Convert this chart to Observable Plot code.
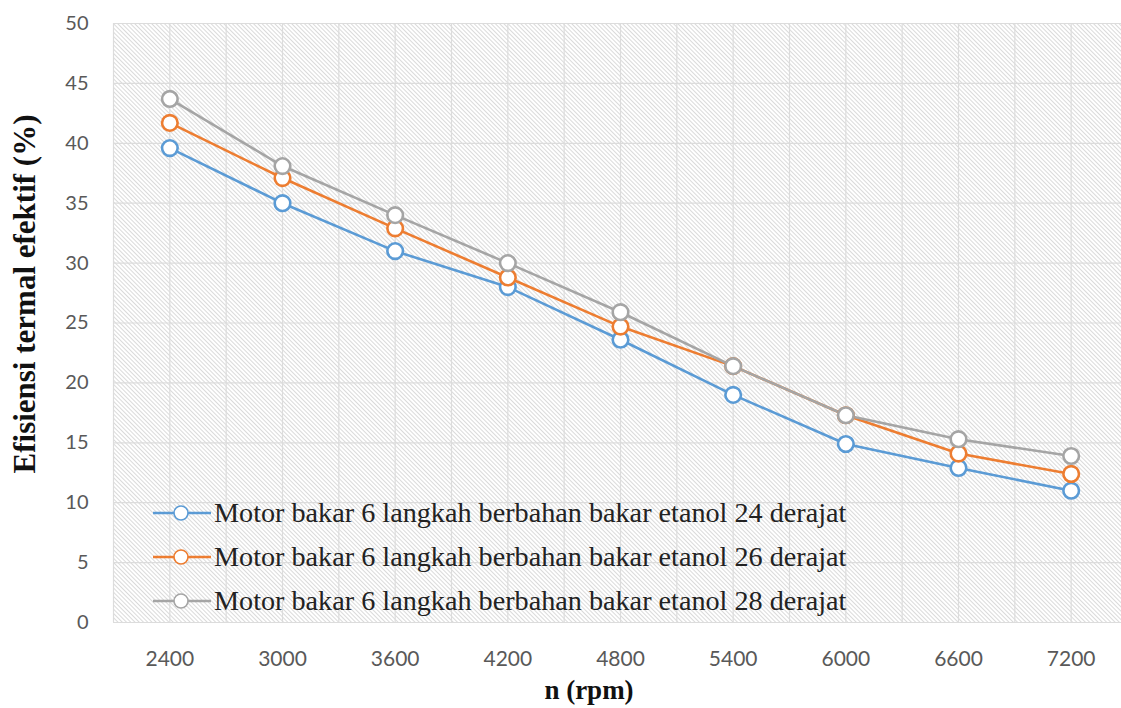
<!DOCTYPE html>
<html><head><meta charset="utf-8">
<script src="https://cdn.jsdelivr.net/npm/d3@7"></script>
<script src="https://cdn.jsdelivr.net/npm/@observablehq/plot@0.6"></script>
<style>
html,body{margin:0;padding:0;background:#fff;}
#wrap{position:relative;width:1121px;height:708px;overflow:hidden;}
</style></head><body><div id="wrap"></div>
<script>
const rpm = [2400, 3000, 3600, 4200, 4800, 5400, 6000, 6600, 7200];
const eff24 = [39.6, 35.0, 31.0, 28.0, 23.6, 19.0, 14.9, 12.9, 11.0];
const eff26 = [41.7, 37.1, 32.9, 28.8, 24.7, 21.4, 17.3, 14.1, 12.4];
const eff28 = [43.7, 38.1, 34.0, 30.0, 25.9, 21.4, 17.3, 15.3, 13.9];
const seriesNames = [
  "Motor bakar 6 langkah berbahan bakar etanol 24 derajat",
  "Motor bakar 6 langkah berbahan bakar etanol 26 derajat",
  "Motor bakar 6 langkah berbahan bakar etanol 28 derajat"
];
const seriesColors = ["#5B9BD5", "#ED7D31", "#A5A5A5"];
const xTickLabels = [2400, 3000, 3600, 4200, 4800, 5400, 6000, 6600, 7200];
const xGridLines = [2100, 2400, 2700, 3000, 3300, 3600, 3900, 4200, 4500, 4800, 5100, 5400, 5700, 6000, 6300, 6600, 6900, 7200];
const yTicks = [0, 5, 10, 15, 20, 25, 30, 35, 40, 45, 50];
const xTitle = "n (rpm)";
const yTitle = "Efisiensi termal efektif (%)";

const seriesValues = [eff24, eff26, eff28];
const data = [];
seriesNames.forEach((name, i) => rpm.forEach((r, j) => data.push({rpm: r, eff: seriesValues[i][j], series: name})));

const serif = "'Liberation Serif','Times New Roman',serif";
const grid = "#dcdcdc";
const chart = Plot.plot({
  width: 1121, height: 708,
  marginTop: 23, marginBottom: 86, marginLeft: 113, marginRight: 0,
  x: {type: "linear", domain: [2100, 7468]},
  y: {domain: [0, 50]},
  color: {domain: seriesNames, range: seriesColors},
  style: {fontFamily: "Lato, 'Open Sans', sans-serif", background: "white", overflow: "visible"},
  marks: [
    Plot.frame({fill: "url(#hatch)", stroke: grid}),
    Plot.gridX(xGridLines, {stroke: grid, strokeOpacity: 1, strokeWidth: 1.2}),
    Plot.gridY(yTicks, {stroke: grid, strokeOpacity: 1, strokeWidth: 1.2}),
    Plot.axisX(xTickLabels, {tickSize: 0, tickPadding: 29, fontSize: 21, fill: "#595959", label: null, tickFormat: d => String(d)}),
    Plot.axisY(yTicks, {tickSize: 0, tickPadding: 25, fontSize: 20, fill: "#595959", label: null, tickFormat: d => String(d)}),
    Plot.line(data, {x: "rpm", y: "eff", z: "series", stroke: "series", strokeWidth: 2.6}),
    Plot.dot(data, {x: "rpm", y: "eff", stroke: "series", fill: "white", r: 7.8, strokeWidth: 2.6})
  ]
});

const svg = d3.select(chart);
const defs = svg.insert("defs", ":first-child");
const pat = defs.append("pattern").attr("id", "hatch").attr("patternUnits", "userSpaceOnUse")
  .attr("width", 3).attr("height", 3).attr("patternTransform", "rotate(-45)");
pat.append("rect").attr("width", 3).attr("height", 3).attr("fill", "#ffffff");
pat.append("rect").attr("x", 0).attr("y", 0).attr("width", 0.9).attr("height", 3).attr("fill", "#d6d6d6");

svg.append("text").text(xTitle)
  .attr("x", 589).attr("y", 699).attr("text-anchor", "middle")
  .attr("font-family", serif).attr("font-weight", "bold")
  .attr("font-size", 27).attr("fill", "#111");
svg.append("text").text(yTitle)
  .attr("transform", "translate(35,294) rotate(-90)").attr("text-anchor", "middle")
  .attr("font-family", serif).attr("font-weight", "bold")
  .attr("font-size", 31).attr("fill", "#111");

const wrap = document.getElementById("wrap");
wrap.appendChild(chart);

const legend = document.createElement("div");
legend.style.cssText = "position:absolute;left:153px;top:491px;";
seriesNames.forEach((name, i) => {
  const row = document.createElement("div");
  row.style.cssText = "display:flex;align-items:center;height:44px;white-space:nowrap;";
  row.innerHTML = `<svg width="58" height="20" style="margin-right:3px"><line x1="0" x2="58" y1="10" y2="10" stroke="${seriesColors[i]}" stroke-width="2.6"/><circle cx="28" cy="10" r="7" fill="white" stroke="${seriesColors[i]}" stroke-width="1.6"/></svg><span style="font-family:${serif.replace(/'/g, '&quot;')};font-size:28.2px;color:#222;">${name}</span>`;
  legend.appendChild(row);
});
wrap.appendChild(legend);
</script>
</body></html>
